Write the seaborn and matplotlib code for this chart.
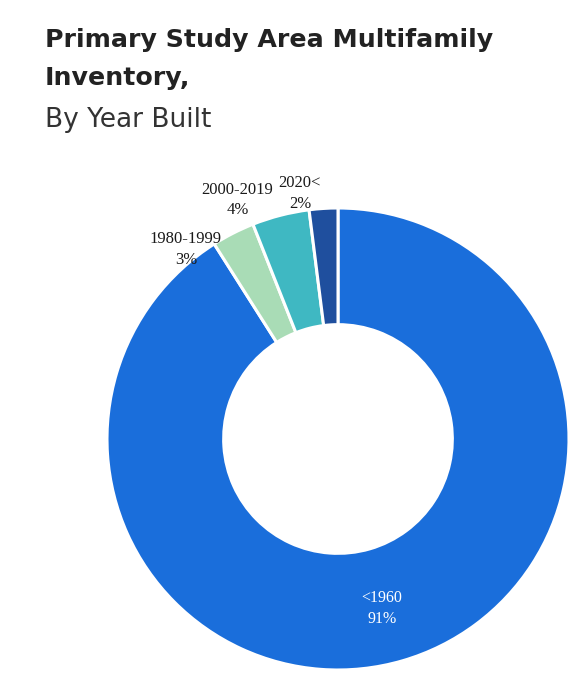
import matplotlib.pyplot as plt
import numpy as np
import seaborn as sns

sns.set_theme(style="white")
plt.rcParams['font.family'] = ['DejaVu Sans']

# data
categories = ['<1960', '1980-1999', '2000-2019', '2020<']
shares = [91, 3, 4, 2]
colors = ['#1a6edb', '#a9dcb6', '#3fb8c2', '#1f4f9e']

fig = plt.figure(figsize=(5.71, 6.78), dpi=100)

# title block
fig.text(45 / 571, 1 - 40 / 678, 'Primary Study Area Multifamily',
         fontsize=18.2, fontweight='bold', color='#222222', va='center', ha='left')
fig.text(45 / 571, 1 - 78 / 678, 'Inventory,',
         fontsize=18.2, fontweight='bold', color='#222222', va='center', ha='left')
fig.text(45 / 571, 1 - 120 / 678, 'By Year Built',
         fontsize=19, fontweight='medium', color='#333333', va='center', ha='left')

# donut axes (square in pixels)
cx, cy, r = 338, 439, 231
ax = fig.add_axes([(cx - r) / 571, (678 - cy - r) / 678, 2 * r / 571, 2 * r / 678])
wedges, _ = ax.pie(
    shares,
    colors=colors,
    startangle=90,
    counterclock=False,
    radius=1,
    wedgeprops={'width': 0.505, 'edgecolor': 'white', 'linewidth': 2.2},
)
ax.set_xlim(-1, 1)
ax.set_ylim(-1, 1)
ax.set_aspect('equal')
ax.axis('off')

# label offsets (points) from the outer edge of each small wedge, best-fit style
label_offsets = [None, (-34, -12), (-31, 11), (-17, 11)]

for w, cat, val, off in zip(wedges, categories, shares, label_offsets):
    mid = np.deg2rad((w.theta1 + w.theta2) / 2)
    if off is None:
        ax.text(0.755 * np.cos(mid) - 0.02, 0.755 * np.sin(mid) - 0.01, f'{cat}\n{val}%',
                ha='center', va='center', color='white', fontsize=11.5,
                family='Liberation Serif', linespacing=1.4)
    else:
        ax.annotate(f'{cat}\n{val}%', xy=(np.cos(mid), np.sin(mid)),
                    xytext=off, textcoords='offset points',
                    ha='center', va='center', color='#1a1a1a', fontsize=12,
                    family='Liberation Serif', linespacing=1.4,
                    annotation_clip=False)

fig.savefig('out.png', dpi=100)
